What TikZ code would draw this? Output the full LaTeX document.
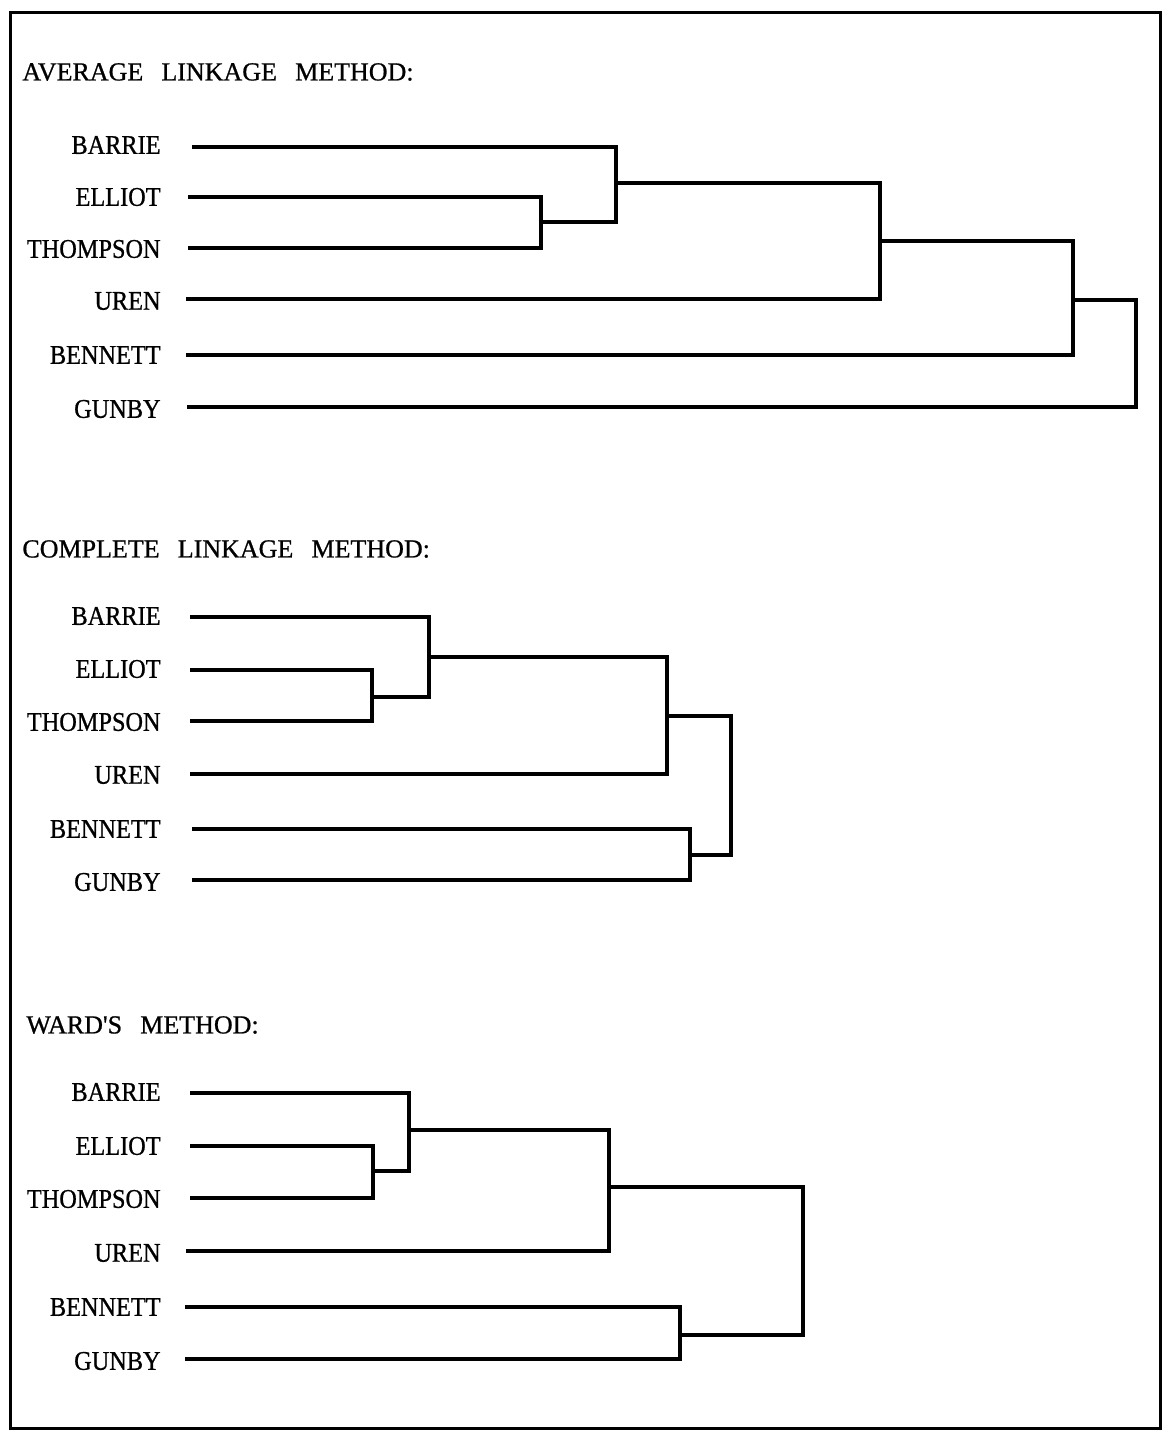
\documentclass[tikz,border=0pt]{standalone}
\usepackage{fontspec}
\setmainfont{Liberation Serif}
\newfontfamily\lblfont[FakeStretch=0.9,FakeBold=0.8]{Liberation Serif}
\newfontfamily\ttlfont[FakeBold=0.8]{Liberation Serif}
\begin{document}
\begin{tikzpicture}[x=0.5pt,y=-0.5pt,
  lbl/.style={anchor=east,inner sep=0pt,font=\lblfont\fontsize{13.5}{15}\selectfont},
  ttl/.style={anchor=west,inner sep=0pt,font=\ttlfont\fontsize{13}{15}\selectfont},
  dendro/.style={line width=1.7pt,line join=miter},
  frame/.style={line width=1.5pt}]
\useasboundingbox (0,0) rectangle (1165,1431);
\draw[frame] (10,12) rectangle (1160,1428);
\def\ws{\hspace{0.7em}}
% ---------- AVERAGE
\node[ttl] (t1) at (22,72) {AVERAGE\ws LINKAGE\ws METHOD:};
\node[lbl] (a1) at (161,145) {BARRIE};
\node[lbl] (a2) at (161,197) {ELLIOT};
\node[lbl] (a3) at (161,249) {THOMPSON};
\node[lbl] (a4) at (161,301) {UREN};
\node[lbl] (a5) at (161,355) {BENNETT};
\node[lbl] (a6) at (161,409) {GUNBY};
\draw[dendro] (188,197) -- (541,197) -- (541,248) -- (188,248);
\draw[dendro] (192,147) -- (616,147) -- (616,222) -- (541,222);
\draw[dendro] (616,183) -- (880,183) -- (880,299) -- (186,299);
\draw[dendro] (880,241) -- (1073,241) -- (1073,355) -- (186,355);
\draw[dendro] (1073,300) -- (1136,300) -- (1136,407) -- (187,407);
% ---------- COMPLETE
\node[ttl] (t2) at (22,549) {COMPLETE\ws LINKAGE\ws METHOD:};
\node[lbl] (b1) at (161,616) {BARRIE};
\node[lbl] (b2) at (161,669) {ELLIOT};
\node[lbl] (b3) at (161,722) {THOMPSON};
\node[lbl] (b4) at (161,775) {UREN};
\node[lbl] (b5) at (161,829) {BENNETT};
\node[lbl] (b6) at (161,882) {GUNBY};
\draw[dendro] (190,670) -- (372,670) -- (372,721) -- (190,721);
\draw[dendro] (190,617) -- (429,617) -- (429,697) -- (372,697);
\draw[dendro] (429,657) -- (667,657) -- (667,774) -- (190,774);
\draw[dendro] (192,829) -- (690,829) -- (690,880) -- (192,880);
\draw[dendro] (667,716) -- (731,716) -- (731,855) -- (690,855);
% ---------- WARD
\node[ttl] (t3) at (26,1025) {WARD'S\ws METHOD:};
\node[lbl] (c1) at (161,1092) {BARRIE};
\node[lbl] (c2) at (161,1146) {ELLIOT};
\node[lbl] (c3) at (161,1199) {THOMPSON};
\node[lbl] (c4) at (161,1253) {UREN};
\node[lbl] (c5) at (161,1307) {BENNETT};
\node[lbl] (c6) at (161,1361) {GUNBY};
\draw[dendro] (190,1146) -- (373,1146) -- (373,1198) -- (190,1198);
\draw[dendro] (190,1093) -- (409,1093) -- (409,1171) -- (373,1171);
\draw[dendro] (409,1130) -- (609,1130) -- (609,1251) -- (186,1251);
\draw[dendro] (185,1307) -- (680,1307) -- (680,1359) -- (185,1359);
\draw[dendro] (609,1187) -- (803,1187) -- (803,1335) -- (680,1335);
\end{tikzpicture}
\end{document}
